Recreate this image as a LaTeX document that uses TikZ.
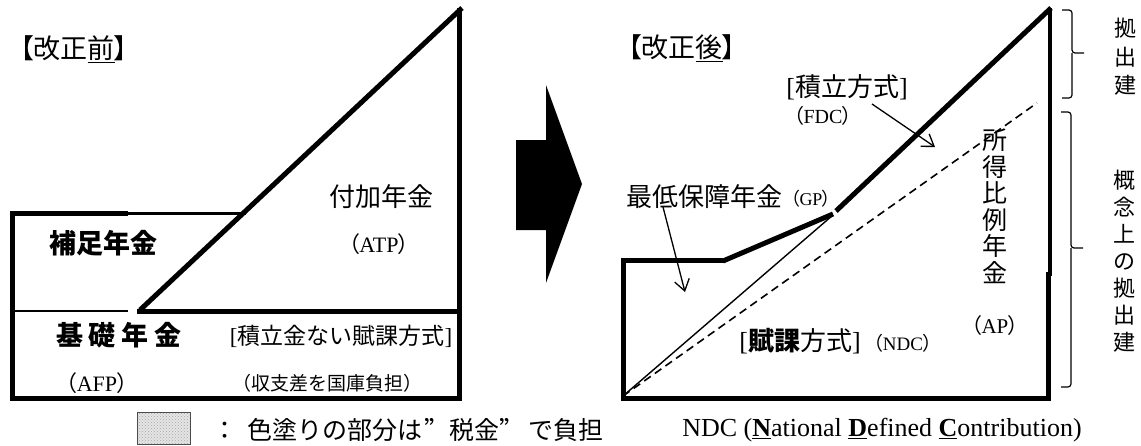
\documentclass[tikz,border=0pt]{standalone}
\usepackage{fontspec}
\setmainfont{Liberation Serif}
\newfontfamily\jp{Noto Sans CJK JP}
\newfontfamily\jpp[RawFeature=+palt]{Noto Sans CJK JP}
\newfontfamily\jpw[RawFeature=+fwid]{Noto Sans CJK JP}
\newcommand\pa[1]{{\jpp（}#1{\jpp）}}
\newcommand\bk[1]{{\rmfamily[}#1{\rmfamily]}}
\usetikzlibrary{arrows.meta,patterns}
\begin{document}
\begin{tikzpicture}[x=1pt,y=-1pt,
  thk/.style={line width=5pt,line join=miter},
  thn/.style={line width=1.4pt},
  jf/.style={font=\jp\fontsize{#1}{#1}\selectfont,inner sep=0pt},
  rf/.style={font=\rmfamily\fontsize{#1}{#1}\selectfont,inner sep=0pt},
  vt/.style={font=\jp\fontsize{22}{#1}\selectfont,inner sep=0pt,align=center},
  ptr/.style={line width=1.3pt,-{Straight Barb[length=11pt,width=15pt]}},
  brc/.style={line width=1.2pt,rounded corners=3pt}]
\useasboundingbox (0,0) rectangle (1141,445);

% ---------- left panel ----------
\draw[thk] (128,213) -- (12,213) -- (12,398) -- (462,398);
\draw[thk] (459,8) -- (459,400);
\draw[line width=3pt] (128,213) -- (246,213);
\draw[thn] (12,311) -- (128,311);
\draw[thk] (137,311) -- (459,311);
\draw[thk] (140,310) -- (462,8);

\node[jf=27] (before) at (74,49) {{\jpp【}改正\underline{前}{\jpp】}};
\node[jf=26] (fuka) at (381,197) {付加年金};
\node[rf=22] (atp) at (379,244) {\pa{ATP}};
\node[jf=27] (hosoku) at (103,243) {\bfseries 補足年金};
\node[jf=27] (kiso) at (119,335) {\bfseries 基\hspace{6pt}礎\hspace{6pt}年\hspace{6pt}金};
\node[jf=23] (tsumi) at (341,336) {\bk{積立金ない賦課方式}};
\node[rf=22] (afp) at (97,383) {\pa{AFP}};
\node[jf=19] (shushi) at (327,383) {（収支差を国庫負担）};

% ---------- big arrow ----------
\fill (516,140) -- (546,140) -- (546,85) -- (582,184) -- (546,283) -- (546,230) -- (516,230) -- cycle;

% ---------- right panel ----------
\draw[thk] (725,260) -- (623,260) -- (623,398) -- (1048,398) -- (1048,272);
\draw[line width=4pt] (1050,8) -- (1050,276);
\draw[thk] (723,261) -- (833,214);
\draw[thk] (836,211) -- (1051,8);
\draw[thn] (623,396) -- (833,215);
\draw[line width=1.6pt,dash pattern=on 8pt off 5pt] (623,396) -- (1037,103);

\node[jf=27] (after) at (682,48) {{\jpp【}改正\underline{後}{\jpp】}};
\node[jf=26] (fdcj) at (847,87) {\bk{積立方式}};
\node[rf=20] (fdc) at (823,116) {\pa{FDC}};
\node[jf=26] (gpj) at (704,197) {最低保障年金};
\node[rf=18] (gp) at (811,199) {\pa{GP}};
\node[jf=26] (ndcj) at (800,341) {\bk{\bfseries 賦課\mdseries 方式}};
\node[rf=19] (ndc) at (903,343) {\pa{NDC}};
\node[rf=21] (ap) at (995,326) {\pa{AP}};
\node[vt=26.5,font=\jp\fontsize{25}{26.5}\selectfont] (shotoku) at (995,206) {所\\得\\比\\例\\年\\金};

\coordinate (gpS) at (663,207);
\coordinate (gpE) at (685,292);
\draw[ptr] (gpS) -- (gpE);
\coordinate (fdcS) at (872,104);
\coordinate (fdcE) at (935,147);
\draw[ptr] (fdcS) -- (fdcE);

% ---------- braces ----------
\coordinate (b1t) at (1062,10);
\coordinate (b1m) at (1072,53);
\coordinate (b1b) at (1062,98);
\coordinate (b1k) at (1084,53);
\draw[brc] (b1t) -| (b1m) -- (b1k);
\draw[brc] (b1b) -| (b1m);
\coordinate (b2t) at (1061,112);
\coordinate (b2m) at (1071,248);
\coordinate (b2b) at (1061,387);
\coordinate (b2k) at (1083,248);
\draw[brc] (b2t) -| (b2m) -- (b2k);
\draw[brc] (b2b) -| (b2m);
\node[vt=28.5] (kyo1) at (1125,57) {拠\\出\\建};
\node[vt=27] (kyo2) at (1124,261) {概\\念\\上\\の\\拠\\出\\建};

% ---------- legend ----------
\fill[black!10] (137,412) rectangle (190,444);
\fill[pattern=crosshatch dots,pattern color=black!35] (137,412) rectangle (190,444);
\draw[black!70,line width=0.8pt] (137,412) rectangle (190,444);
\node[jf=25,anchor=west] (legend) at (212,430) {：\hspace{10pt}色塗りの部分は\hspace{2pt}{\jpw ”}税金{\jpw ”}\hspace{4pt}で負担};
\node[rf=26] (ndcfull) at (882,430) {NDC (\underline{\textbf{N}}ational \underline{\textbf{D}}efined \underline{\textbf{C}}ontribution)};
\end{tikzpicture}
\end{document}
